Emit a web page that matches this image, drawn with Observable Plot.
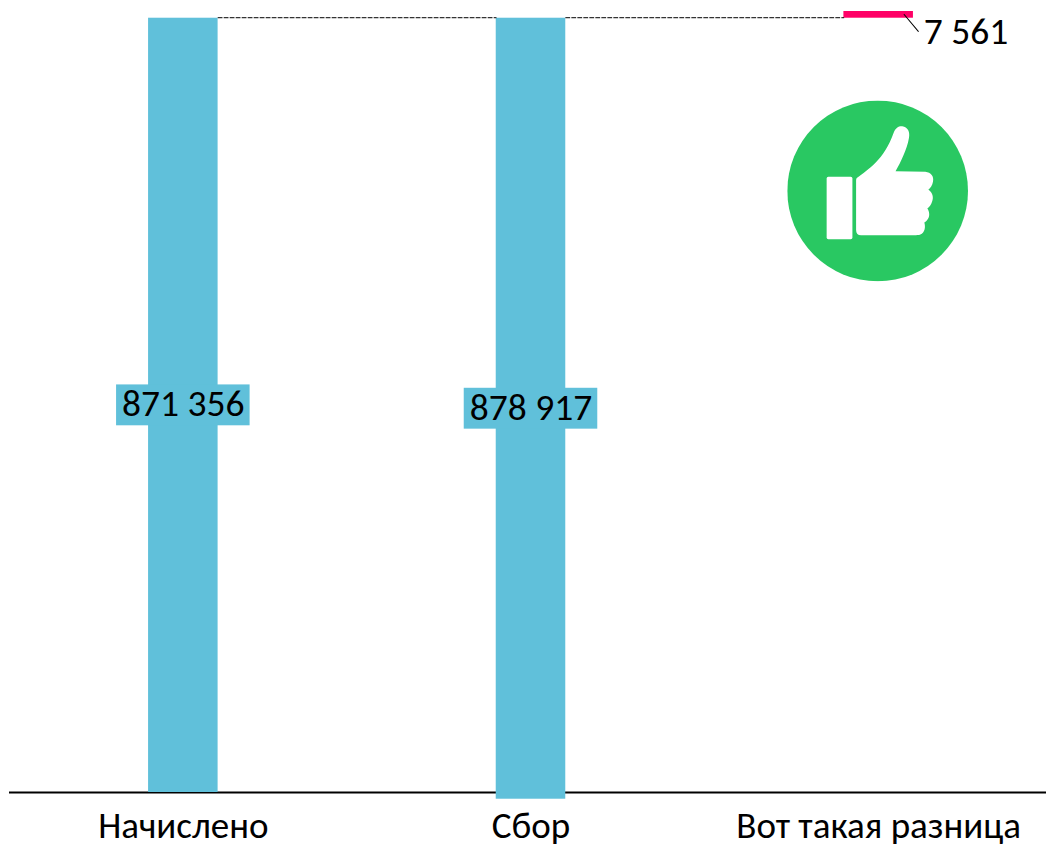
<!DOCTYPE html>
<html lang="ru">
<head>
<meta charset="utf-8">
<style>html,body{margin:0;padding:0;background:#fff}svg{display:block}</style>
<script src="https://cdn.jsdelivr.net/npm/d3@7"></script>
<script src="https://cdn.jsdelivr.net/npm/@observablehq/plot@0.6"></script>
</head>
<body>
<script>
const categories = ["Начислено", "Сбор", "Вот такая разница"];
const barBase = [0, -7561, 871356];
const barTop = [871356, 871356, 878917];
const barLabels = ["871 356", "878 917", "7 561"];
const barColors = ["#60C0DA", "#60C0DA", "#FF0066"];
const labelHalfHeight = 23000;
const iconLevel = 677000;

const FONT = "Carlito, Lato, 'Open Sans', sans-serif";
const rows = categories.map((c, i) => ({c, y1: barBase[i], y2: barTop[i], label: barLabels[i], color: barColors[i], mid: (barBase[i] + barTop[i]) / 2}));
const blue = rows.slice(0, 2);
const diff = rows.slice(2);

const icon = `<svg xmlns="http://www.w3.org/2000/svg" viewBox="22 303 541 541"><circle cx="292.5" cy="573.5" r="270" fill="#29C862"/><rect x="140" y="531" width="77" height="187" rx="5" fill="#fff"/><path fill="#fff" d="M230 535C265 508 312 480 340 400C346 384 356 379 366 380C382 382 390 397 386 415C380 450 362 485 346 515L435 516C452 518 461 530 458 545C456 558 450 564 444 570C456 578 461 592 455 606C452 616 447 622 441 626C448 636 449 650 441 660C438 664 435 667 432 668C436 682 434 698 420 704C415 706 410 706 400 706L243 706C233 706 228 700 228 690L228 545C228 540 228 538 230 535Z"/></svg>`;
const iconSrc = "data:image/svg+xml;charset=utf-8," + encodeURIComponent(icon);
const stroke = {draw(ctx, l) { ctx.moveTo(0, 0); ctx.lineTo(0, -l); }};

const chart = Plot.plot({
  width: 1046,
  height: 847,
  marginLeft: 9,
  marginRight: 0,
  marginTop: 11,
  marginBottom: 55,
  style: {fontFamily: FONT, background: "#fff", color: "#000"},
  x: {domain: categories, range: [9, 1052], paddingInner: 0.8, paddingOuter: 0.4, align: 0.5, round: false, label: null},
  y: {domain: [0, 878917], axis: null, label: null},
  marks: [
    Plot.ruleY([0], {stroke: "#000", strokeWidth: 2}),
    Plot.barY(rows, {x: "c", y1: "y1", y2: "y2", fill: "color"}),
    Plot.vector(blue, {x: "c", y: "y2", length: 278, rotate: 90, dx: 34.75, dy: -0.5, anchor: "start", shape: stroke, stroke: "#000", strokeWidth: 1, strokeDasharray: "4 2"}),
    Plot.barY(blue, {x: "c", y1: d => d.mid - labelHalfHeight, y2: d => d.mid + labelHalfHeight, fill: "color", insetLeft: -32, insetRight: -32}),
    Plot.text(blue, {x: "c", y: "mid", text: "label", fontSize: 37.5, fill: "#000", dy: -1}),
    Plot.vector(diff, {x: "c", y: "y2", length: 22, rotate: 140, dx: 25.5, dy: 3, anchor: "start", shape: stroke, stroke: "#000", strokeWidth: 1}),
    Plot.text(diff, {x: "c", y: "y2", text: "label", fontSize: 37.5, fill: "#000", textAnchor: "start", dx: 45, dy: 20}),
    Plot.image(diff, {x: "c", y: () => iconLevel, src: () => iconSrc, width: 181, height: 181, dx: -1, preserveAspectRatio: "none"}),
    Plot.axisX({anchor: "bottom", tickSize: 0, tickPadding: 19, fontSize: 37, label: null, fill: "#000"})
  ]
});
document.body.appendChild(chart);
</script>
</body>
</html>
